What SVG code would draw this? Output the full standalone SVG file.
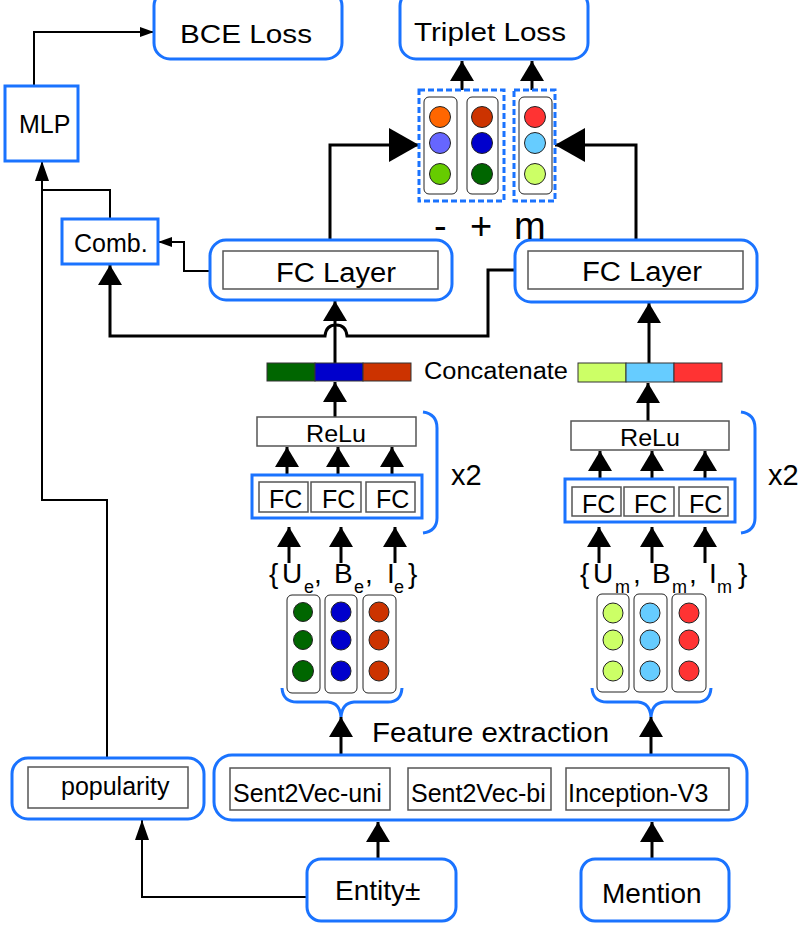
<svg xmlns="http://www.w3.org/2000/svg" width="802" height="926" viewBox="0 0 802 926">
<style>
text{font-family:"Liberation Sans",Arial,sans-serif;fill:#000}
.blue{fill:#fff;stroke:#1a73ff;stroke-width:3}
.inner{fill:#fff;stroke:#555;stroke-width:1.5}
.col{fill:#fff;stroke:#222;stroke-width:1}
.dot{stroke:#222;stroke-width:1}
.dash{fill:none;stroke:#1a73ff;stroke-width:3;stroke-dasharray:6 3}
.brace{fill:none;stroke:#1a73ff;stroke-width:3}
.thick{fill:none;stroke:#000;stroke-width:3}
.thin{fill:none;stroke:#000;stroke-width:2}
.sub{font-size:18px}
</style>
<defs>
<marker id="big" markerUnits="userSpaceOnUse" viewBox="0 0 20 24" markerWidth="20" markerHeight="24" refX="20" refY="12" orient="auto"><path d="M0 0L20 12L0 24Z"/></marker>
<marker id="huge" markerUnits="userSpaceOnUse" viewBox="0 0 30 34" markerWidth="30" markerHeight="34" refX="30" refY="17" orient="auto"><path d="M0 0L30 17L0 34Z"/></marker>
<marker id="mid" markerUnits="userSpaceOnUse" viewBox="0 0 20 14" markerWidth="20" markerHeight="14" refX="20" refY="7" orient="auto"><path d="M0 0L20 7L0 14Z"/></marker>
<marker id="small" markerUnits="userSpaceOnUse" viewBox="0 0 14 10" markerWidth="14" markerHeight="10" refX="14" refY="5" orient="auto"><path d="M0 0L14 5L0 10Z"/></marker>
</defs>
<rect width="802" height="926" fill="#fff"/>

<g id="connectors">
<path class="thin" d="M34 86V32H154" marker-end="url(#small)"/>
<path class="thin" d="M107 758V500H42V161" marker-end="url(#mid)"/>
<path class="thin" d="M110 219V190H42"/>
<path class="thin" d="M210 271H184V242H158" marker-end="url(#small)"/>
<path class="thick" d="M515 270H488V336H347Q346 325 336 325Q326 325 325 336H110V265" marker-end="url(#big)"/>
<path class="thick" d="M330 240V145H419" marker-end="url(#huge)"/>
<path class="thick" d="M636 240V145H555" marker-end="url(#huge)"/>
<path class="thick" d="M462 90V61" marker-end="url(#big)"/>
<path class="thick" d="M532 90V61" marker-end="url(#big)"/>
<path class="thick" d="M335 363V301" marker-end="url(#big)"/>
<path class="thick" d="M649 363V303" marker-end="url(#big)"/>
<path class="thick" d="M335 417V382" marker-end="url(#big)"/>
<path class="thick" d="M648 421V383" marker-end="url(#big)"/>
<path class="thick" d="M287 482V447" marker-end="url(#big)"/>
<path class="thick" d="M338 482V447" marker-end="url(#big)"/>
<path class="thick" d="M392 482V447" marker-end="url(#big)"/>
<path class="thick" d="M600 487V451" marker-end="url(#big)"/>
<path class="thick" d="M652 487V451" marker-end="url(#big)"/>
<path class="thick" d="M705 487V451" marker-end="url(#big)"/>
<path class="thick" d="M289 563V527" marker-end="url(#big)"/>
<path class="thick" d="M341 563V527" marker-end="url(#big)"/>
<path class="thick" d="M395 563V527" marker-end="url(#big)"/>
<path class="thick" d="M599 563V527" marker-end="url(#big)"/>
<path class="thick" d="M652 563V527" marker-end="url(#big)"/>
<path class="thick" d="M705 563V527" marker-end="url(#big)"/>
<path class="thick" d="M341 755V717" marker-end="url(#big)"/>
<path class="thick" d="M651 755V717" marker-end="url(#big)"/>
<path class="thick" d="M378 859V822" marker-end="url(#big)"/>
<path class="thick" d="M652 859V822" marker-end="url(#big)"/>
<path class="thin" d="M307 897H142V820" marker-end="url(#mid)"/>
</g>

<g id="bce-loss">
<rect class="blue" x="154" y="-10" width="188" height="69" rx="16"/>
<text x="180" y="43" font-size="26" textLength="132" lengthAdjust="spacingAndGlyphs">BCE Loss</text>
</g>
<g id="triplet-loss">
<rect class="blue" x="400" y="-10" width="188" height="69" rx="16"/>
<text x="414" y="41" font-size="26" textLength="152" lengthAdjust="spacingAndGlyphs">Triplet Loss</text>
</g>
<g id="mlp">
<rect class="blue" x="5" y="86" width="73" height="75"/>
<text x="19" y="133" font-size="25">MLP</text>
</g>
<g id="comb">
<rect class="blue" x="62" y="219" width="96" height="45"/>
<text x="74" y="252" font-size="25">Comb.</text>
</g>
<g id="fc-layer-entity">
<rect class="blue" x="210" y="240" width="242" height="60" rx="16"/>
<rect class="inner" x="223" y="251" width="215" height="38"/>
<text x="276" y="282" font-size="27" textLength="120" lengthAdjust="spacingAndGlyphs">FC Layer</text>
</g>
<g id="fc-layer-mention">
<rect class="blue" x="515" y="240" width="242" height="62" rx="16"/>
<rect class="inner" x="528" y="251" width="215" height="38"/>
<text x="582" y="281" font-size="27" textLength="120" lengthAdjust="spacingAndGlyphs">FC Layer</text>
</g>

<g id="triplet-neg">
<rect class="dash" x="419" y="90" width="85" height="111"/>
<rect class="col" x="424" y="97" width="33" height="97" rx="5"/>
<rect class="col" x="467" y="97" width="31" height="97" rx="5"/>
<circle class="dot" cx="440" cy="117" r="10.5" fill="#ff6600"/>
<circle class="dot" cx="440" cy="143" r="10.5" fill="#6666ff"/>
<circle class="dot" cx="440" cy="174" r="10.5" fill="#66cc00"/>
<circle class="dot" cx="482" cy="117" r="10.5" fill="#cc3300"/>
<circle class="dot" cx="482" cy="143" r="10.5" fill="#0000cc"/>
<circle class="dot" cx="482" cy="174" r="10.5" fill="#006600"/>
</g>
<g id="triplet-pos">
<rect class="dash" x="514" y="90" width="41" height="111"/>
<rect class="col" x="519" y="97" width="33" height="97" rx="5"/>
<circle class="dot" cx="535" cy="117" r="10.5" fill="#ff3333"/>
<circle class="dot" cx="535" cy="143" r="10.5" fill="#66ccff"/>
<circle class="dot" cx="535" cy="174" r="10.5" fill="#ccff66"/>
</g>
<g id="margin-label">
<text y="239" font-size="38"><tspan x="434">-</tspan><tspan x="470">+</tspan><tspan x="514">m</tspan></text>
</g>

<g id="concat-entity">
<rect x="267" y="363" width="48" height="18" fill="#006600" stroke="#333"/>
<rect x="315" y="363" width="48" height="18" fill="#0000cc" stroke="#333"/>
<rect x="363" y="363" width="48" height="18" fill="#cc3300" stroke="#333"/>
</g>
<g id="concat-label">
<text x="424" y="379" font-size="23" textLength="144" lengthAdjust="spacingAndGlyphs">Concatenate</text>
</g>
<g id="concat-mention">
<rect x="578" y="363" width="48" height="19" fill="#ccff66" stroke="#333"/>
<rect x="626" y="363" width="48" height="19" fill="#66ccff" stroke="#333"/>
<rect x="674" y="363" width="48" height="19" fill="#ff3333" stroke="#333"/>
</g>

<g id="relu-entity">
<rect class="inner" x="257" y="417" width="159" height="29"/>
<text x="306" y="442" font-size="23" textLength="60" lengthAdjust="spacingAndGlyphs">ReLu</text>
</g>
<g id="relu-mention">
<rect class="inner" x="571" y="421" width="158" height="29"/>
<text x="620" y="446" font-size="23" textLength="60" lengthAdjust="spacingAndGlyphs">ReLu</text>
</g>

<g id="fc-entity">
<rect class="blue" x="252" y="475" width="170" height="43"/>
<rect class="inner" x="259" y="482" width="49" height="30"/>
<rect class="inner" x="311" y="482" width="50" height="30"/>
<rect class="inner" x="366" y="482" width="49" height="30"/>
<text x="269" y="508" font-size="25">FC</text>
<text x="322" y="508" font-size="25">FC</text>
<text x="376" y="508" font-size="25">FC</text>
</g>
<g id="fc-mention">
<rect class="blue" x="565" y="479" width="170" height="43"/>
<rect class="inner" x="572" y="487" width="49" height="29"/>
<rect class="inner" x="624" y="487" width="50" height="29"/>
<rect class="inner" x="679" y="487" width="49" height="29"/>
<text x="582" y="513" font-size="25">FC</text>
<text x="634" y="513" font-size="25">FC</text>
<text x="689" y="513" font-size="25">FC</text>
</g>

<g id="repeat-entity">
<path class="brace" d="M423 412Q437 414 437 428V518Q437 531 423 533"/>
<text x="451" y="485" font-size="29">x2</text>
</g>
<g id="repeat-mention">
<path class="brace" d="M741 412Q755 414 755 428V518Q755 531 741 533"/>
<text x="768" y="485" font-size="29">x2</text>
</g>

<g id="features-entity-label">
<text font-size="28"><tspan x="269" y="583">{</tspan><tspan x="282" y="583">U</tspan><tspan class="sub" x="304" y="593">e</tspan><tspan x="314" y="583">,</tspan><tspan x="334" y="583">B</tspan><tspan class="sub" x="354" y="593">e</tspan><tspan x="365" y="583">,</tspan><tspan x="387" y="583">I</tspan><tspan class="sub" x="394" y="593">e</tspan><tspan x="408" y="583">}</tspan></text>
</g>
<g id="features-mention-label">
<text font-size="28"><tspan x="580" y="583">{</tspan><tspan x="593" y="583">U</tspan><tspan class="sub" x="615" y="593">m</tspan><tspan x="633" y="583">,</tspan><tspan x="652" y="583">B</tspan><tspan class="sub" x="672" y="593">m</tspan><tspan x="689" y="583">,</tspan><tspan x="709" y="583">I</tspan><tspan class="sub" x="717" y="593">m</tspan><tspan x="738" y="583">}</tspan></text>
</g>

<g id="vectors-entity">
<rect class="col" x="287" y="595" width="33" height="98" rx="5"/>
<rect class="col" x="325" y="595" width="32" height="98" rx="5"/>
<rect class="col" x="363" y="595" width="33" height="98" rx="5"/>
<circle class="dot" cx="303" cy="612" r="9.5" fill="#006600"/>
<circle class="dot" cx="303" cy="640" r="9.5" fill="#006600"/>
<circle class="dot" cx="303" cy="671" r="10.5" fill="#006600"/>
<circle class="dot" cx="341" cy="612" r="10" fill="#0000cc"/>
<circle class="dot" cx="341" cy="640" r="10" fill="#0000cc"/>
<circle class="dot" cx="341" cy="671" r="10" fill="#0000cc"/>
<circle class="dot" cx="379" cy="612" r="10" fill="#cc3300"/>
<circle class="dot" cx="379" cy="640" r="10" fill="#cc3300"/>
<circle class="dot" cx="379" cy="671" r="10" fill="#cc3300"/>
<path class="brace" d="M282 688Q283 702 297 702H328Q340 703 341 717Q342 703 354 702H388Q401 702 402 688"/>
</g>
<g id="vectors-mention">
<rect class="col" x="597" y="594" width="32" height="98" rx="5"/>
<rect class="col" x="634" y="594" width="33" height="98" rx="5"/>
<rect class="col" x="672" y="594" width="34" height="98" rx="5"/>
<circle class="dot" cx="613" cy="613" r="10" fill="#ccff66"/>
<circle class="dot" cx="613" cy="640" r="10" fill="#ccff66"/>
<circle class="dot" cx="613" cy="671" r="10" fill="#ccff66"/>
<circle class="dot" cx="650" cy="613" r="10" fill="#66ccff"/>
<circle class="dot" cx="650" cy="640" r="10" fill="#66ccff"/>
<circle class="dot" cx="650" cy="671" r="10" fill="#66ccff"/>
<circle class="dot" cx="689" cy="613" r="10" fill="#ff3333"/>
<circle class="dot" cx="689" cy="640" r="10" fill="#ff3333"/>
<circle class="dot" cx="689" cy="671" r="10" fill="#ff3333"/>
<path class="brace" d="M592 688Q593 702 607 702H638Q650 703 651 717Q652 703 664 702H697Q710 702 711 688"/>
</g>

<g id="feature-extraction-label">
<text x="372" y="742" font-size="27" textLength="237" lengthAdjust="spacingAndGlyphs">Feature extraction</text>
</g>
<g id="feature-extraction">
<rect class="blue" x="214" y="755" width="533" height="65" rx="18"/>
<rect class="inner" x="230" y="768" width="160" height="42"/>
<rect class="inner" x="408" y="768" width="143" height="42"/>
<rect class="inner" x="566" y="768" width="163" height="42"/>
<text x="233" y="802" font-size="25">Sent2Vec-uni</text>
<text x="411" y="802" font-size="25">Sent2Vec-bi</text>
<text x="568" y="802" font-size="25">Inception-V3</text>
</g>
<g id="popularity">
<rect class="blue" x="12" y="758" width="192" height="61" rx="16"/>
<rect class="inner" x="28" y="767" width="160" height="41"/>
<text x="61" y="795" font-size="25">popularity</text>
</g>
<g id="entity">
<rect class="blue" x="307" y="859" width="149" height="62" rx="14"/>
<text x="335" y="900" font-size="28">Entity±</text>
</g>
<g id="mention">
<rect class="blue" x="581" y="859" width="148" height="62" rx="14"/>
<text x="602" y="903" font-size="28">Mention</text>
</g>
</svg>
